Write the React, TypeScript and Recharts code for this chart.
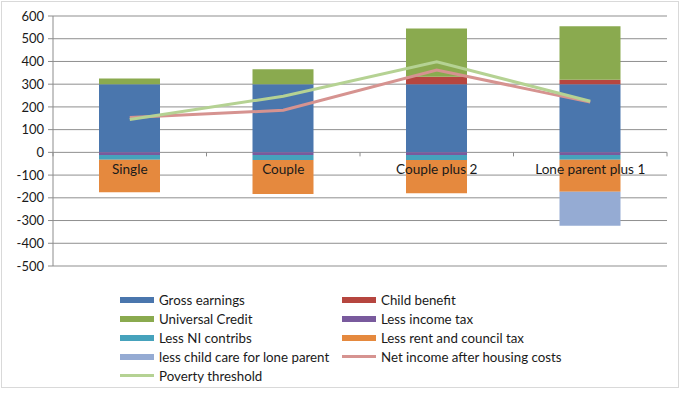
import { ComposedChart, Bar, Line, XAxis, YAxis, CartesianGrid } from 'recharts';

const households = ['Single', 'Couple', 'Couple plus 2', 'Lone parent plus 1'];

const grossEarnings = [300, 300, 300, 300];
const childBenefit = [0, 0, 33, 20];
const universalCredit = [25, 66, 212, 235];
const lessIncomeTax = [-12, -12, -12, -12];
const lessNiContribs = [-21, -22, -22, -21];
const lessRentCouncilTax = [-143, -149, -146, -140];
const lessChildCare = [0, 0, 0, -150];
const netIncomeAhc = [153, 185, 362, 221];
const povertyThreshold = [145, 247, 398, 225];

const yTicks = [600, 500, 400, 300, 200, 100, 0, -100, -200, -300, -400, -500];

const barSeries = [
  { key: 'gross', name: 'Gross earnings', color: '#4a76ad', values: grossEarnings },
  { key: 'cb', name: 'Child benefit', color: '#b6463f', values: childBenefit },
  { key: 'uc', name: 'Universal Credit', color: '#8aaa4f', values: universalCredit },
  { key: 'tax', name: 'Less income tax', color: '#795a9d', values: lessIncomeTax },
  { key: 'ni', name: 'Less NI contribs', color: '#46a2bc', values: lessNiContribs },
  { key: 'rent', name: 'Less rent and council tax', color: '#e5893e', values: lessRentCouncilTax },
  { key: 'care', name: 'less child care for lone parent', color: '#95abd3', values: lessChildCare },
];

const lineSeries = [
  { key: 'net', name: 'Net income after housing costs', color: '#d69390', values: netIncomeAhc },
  { key: 'pov', name: 'Poverty threshold', color: '#b5d293', values: povertyThreshold },
];

const data = households.map((name, i) => {
  const row: Record<string, string | number> = { name };
  for (const s of [...barSeries, ...lineSeries]) row[s.key] = s.values[i];
  return row;
});

const W = 681;
const H = 395;
const PLOT_LEFT = 53;
const PLOT_RIGHT = 667;
const PLOT_TOP = 16;
const PLOT_BOTTOM = 266;
const X_AXIS_H = 20;
const Y_MIN = -500;
const Y_MAX = 600;
const FONT = 'Lato, "Open Sans", sans-serif';

// category labels sit just under the zero line rather than at the bottom of the plot
const zeroFromBottom = ((PLOT_BOTTOM - PLOT_TOP) * (0 - Y_MIN)) / (Y_MAX - Y_MIN);
const halfBand = (PLOT_RIGHT - PLOT_LEFT) / households.length / 2;

function CategoryTick(props: any) {
  const { x, payload, index } = props;
  const zy = PLOT_BOTTOM - zeroFromBottom;
  return (
    <g>
      <line x1={x - halfBand} x2={x - halfBand} y1={zy} y2={zy + 4} stroke="#8c8c8c" />
      {index === households.length - 1 && (
        <line x1={x + halfBand} x2={x + halfBand} y1={zy} y2={zy + 4} stroke="#8c8c8c" />
      )}
      <text x={x} y={zy + 17} textAnchor="middle" dominantBaseline="central" fontSize={13.6} fontFamily={FONT} fill="#1a1a1a">
        {payload.value}
      </text>
    </g>
  );
}

function LegendBlock() {
  const items = [
    ...barSeries.map((s) => ({ ...s, kind: 'bar' })),
    ...lineSeries.map((s) => ({ ...s, kind: 'line' })),
  ];
  return (
    <div
      style={{
        position: 'absolute',
        left: 120,
        top: 290,
        display: 'grid',
        gridTemplateColumns: '222px 260px',
        rowGap: 0,
        fontFamily: FONT,
        fontSize: 13.3,
        color: '#1a1a1a',
      }}
    >
      {items.map((it) => (
        <div key={it.key} style={{ display: 'flex', alignItems: 'center', height: 19 }}>
          <span
            style={{
              display: 'inline-block',
              width: 34,
              height: it.kind === 'bar' ? 6 : 3,
              background: it.color,
              marginRight: 5,
            }}
          />
          <span>{it.name}</span>
        </div>
      ))}
    </div>
  );
}

export default function App() {
  return (
    <div style={{ position: 'absolute', left: 0, top: 0, width: W, height: H, background: '#fff' }}>
      <div
        style={{
          position: 'absolute',
          left: 1,
          top: 1,
          width: 676,
          height: 385,
          border: '1px solid #d9d9d9',
        }}
      />
      <div style={{ position: 'absolute', left: 0, top: 0 }}>
        <ComposedChart
          width={W}
          height={H}
          data={data}
          stackOffset="sign"
          margin={{ top: PLOT_TOP, right: W - PLOT_RIGHT, bottom: H - PLOT_BOTTOM - X_AXIS_H, left: 8 }}
        >
          <CartesianGrid vertical={false} stroke="#8f8f8f" />
          <XAxis
            dataKey="name"
            height={X_AXIS_H}
            axisLine={false}
            tickLine={false}
            interval={0}
            tick={<CategoryTick />}
          />
          <YAxis
            width={45}
            domain={[Y_MIN, Y_MAX]}
            ticks={yTicks}
            interval={0}
            allowDataOverflow
            axisLine={{ stroke: '#8c8c8c' }}
            tickLine={{ stroke: '#8c8c8c' }}
            tickSize={5}
            tickMargin={4}
            tick={{ fontSize: 13, fontFamily: FONT, fill: '#1a1a1a' }}
          />
          {barSeries.map((s) => (
            <Bar
              key={s.key}
              dataKey={s.key}
              name={s.name}
              stackId="a"
              fill={s.color}
              barSize={61}
              isAnimationActive={false}
            />
          ))}
          {lineSeries.map((s) => (
            <Line
              key={s.key}
              dataKey={s.key}
              name={s.name}
              type="linear"
              stroke={s.color}
              strokeWidth={3}
              dot={false}
              isAnimationActive={false}
            />
          ))}
        </ComposedChart>
      </div>
      <LegendBlock />
    </div>
  );
}
